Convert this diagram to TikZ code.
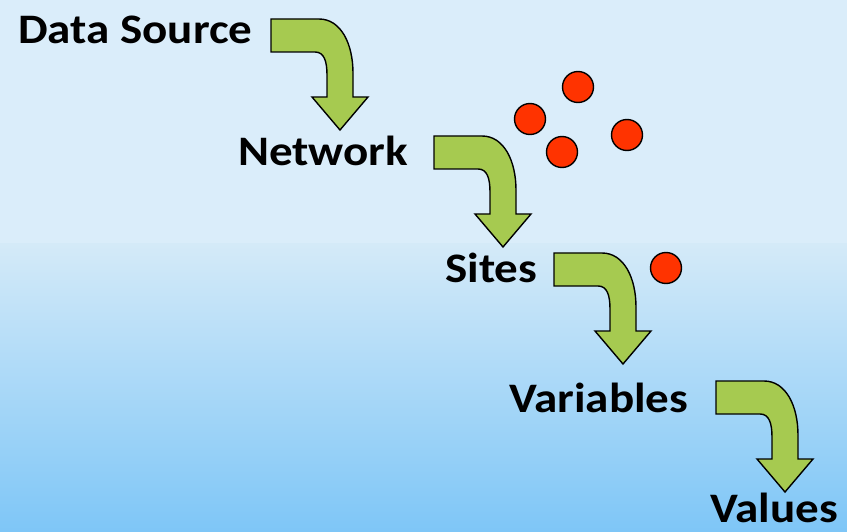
\documentclass[tikz,border=0pt]{standalone}
\usepackage{fontspec}
\setmainfont{Carlito}[FakeStretch=1.12]
\usepackage{tikz}
\usetikzlibrary{calc}

\definecolor{skytop}{HTML}{DAEDFA}
\definecolor{skymid}{HTML}{D4EAF8}
\definecolor{skylow}{HTML}{7EC6F7}
\definecolor{bendgreen}{HTML}{A6CA50}
\definecolor{dotred}{HTML}{FF3300}

\tikzset{
  label/.style={font=\bfseries\fontsize{42}{46}\selectfont, anchor=base west, inner sep=0pt},
  dot/.style={circle, draw=black, line width=1.4pt, fill=dotred, minimum size=31pt, inner sep=0pt},
  bend/.pic={
    \filldraw[fill=bendgreen, draw=black, line width=1.4pt, line join=miter]
      (0,0) -- (48,0) .. controls (70,0) and (82,25) .. (82,54) -- (82,78)
      -- (97,78) -- (69,111) -- (41,78) -- (56,78) -- (56,56)
      .. controls (56,42) and (53,33) .. (44,33) -- (0,33) -- cycle;
  }
}

\begin{document}
\begin{tikzpicture}[x=1pt, y=-1pt]
	% background
	\fill[skytop] (0,0) rectangle (847,244);
	\shade[top color=skymid, bottom color=skylow] (0,244) rectangle (847,532);
	\useasboundingbox (0,0) rectangle (847,532);

	% levels
	\node[label] (src) at (18,44) {Data Source};
	\node[label] (net) at (238,166) {Network};
	\node[label] (sit) at (445,282) {Sites};
	\node[label] (var) at (509,412) {Variables};
	\node[label] (val) at (710,522) {Values};

	% bent arrows
	\pic at (271,19) {bend};
	\pic at (434,136) {bend};
	\pic at (554,253) {bend};
	\pic at (716,381) {bend};

	% red dots
	\node[dot] (d1) at (578,87) {};
	\node[dot] (d2) at (530,119) {};
	\node[dot] (d3) at (562,152) {};
	\node[dot] (d4) at (627,135) {};
	\node[dot] (d5) at (666,268) {};
\end{tikzpicture}
\end{document}
